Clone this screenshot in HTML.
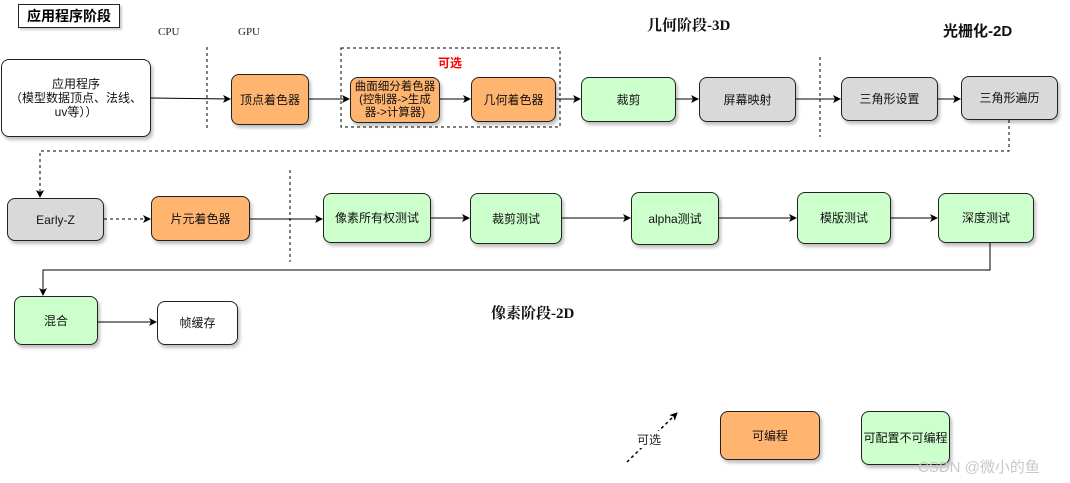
<!DOCTYPE html>
<html><head><meta charset="utf-8"><style>
body{margin:0;width:1070px;height:483px;background:#fff;position:relative;overflow:hidden;font-family:"Liberation Sans","Noto Sans CJK SC",sans-serif;}
.b{position:absolute;box-sizing:border-box;border:1px solid #222;border-radius:8px;display:flex;align-items:center;justify-content:center;text-align:center;font-size:12px;color:#111;box-shadow:2px 3px 3px rgba(0,0,0,0.25);line-height:14px}
.o{background:#ffb570}.g{background:#ccffcc}.y{background:#d9d9d9}.w{background:#fff}
.t{position:absolute;font-size:12px;color:#222;white-space:nowrap}
.h{position:absolute;font-family:"Liberation Serif","Noto Serif CJK SC",serif;font-weight:bold;font-size:15px;color:#111;white-space:nowrap}
svg{position:absolute;left:0;top:0}
</style></head><body>
<svg width="1070" height="483">
<defs><marker id="a" markerWidth="8" markerHeight="8" refX="7" refY="4" orient="auto" markerUnits="userSpaceOnUse"><path d="M0,0L8,4L0,8L2,4z" fill="#000"/></marker></defs>
<g stroke="#000" fill="none" stroke-width="1">
<line x1="207" y1="47" x2="207" y2="128" stroke-dasharray="3,3"/>
<line x1="820" y1="57" x2="820" y2="137" stroke-dasharray="3,3"/>
<line x1="290" y1="170" x2="290" y2="262" stroke-dasharray="3,3"/>
<rect x="341" y="48" width="219" height="79" stroke-dasharray="3,3"/>
<line x1="151" y1="98" x2="230" y2="99" marker-end="url(#a)"/>
<line x1="309" y1="99" x2="349" y2="99" marker-end="url(#a)"/>
<line x1="440" y1="99" x2="470" y2="99" marker-end="url(#a)"/>
<line x1="556" y1="99" x2="580" y2="99" marker-end="url(#a)"/>
<line x1="676" y1="99" x2="698" y2="99" marker-end="url(#a)"/>
<line x1="796" y1="99" x2="840" y2="99" marker-end="url(#a)"/>
<line x1="938" y1="99" x2="960" y2="99" marker-end="url(#a)"/>
<path d="M1009,120V151H40V197" stroke-dasharray="3,3" marker-end="url(#a)"/>
<line x1="104" y1="219" x2="150" y2="219" stroke-dasharray="3,3" marker-end="url(#a)"/>
<line x1="250" y1="219" x2="322" y2="219" marker-end="url(#a)"/>
<line x1="431" y1="218" x2="469" y2="218" marker-end="url(#a)"/>
<line x1="562" y1="218" x2="630" y2="218" marker-end="url(#a)"/>
<line x1="719" y1="218" x2="796" y2="218" marker-end="url(#a)"/>
<line x1="891" y1="218" x2="937" y2="218" marker-end="url(#a)"/>
<path d="M990,243V270H43V295" marker-end="url(#a)"/>
<line x1="98" y1="322" x2="156" y2="322" marker-end="url(#a)"/>
<line x1="627" y1="462" x2="677" y2="413" stroke-dasharray="3,3" stroke-width="1.5" marker-end="url(#a)"/>
</g></svg>
<div style="position:absolute;left:18px;top:4px;width:102px;height:24px;border:1px solid #222;box-sizing:border-box;font-weight:bold;font-size:14px;display:flex;align-items:center;justify-content:center;font-family:'Liberation Sans','Noto Sans CJK SC',sans-serif;box-shadow:2px 2px 2px rgba(0,0,0,.2)">应用程序阶段</div>
<div class="t" style="left:158px;top:26px;font-family:'Liberation Serif',serif;font-size:11px">CPU</div>
<div class="t" style="left:238px;top:26px;font-family:'Liberation Serif',serif;font-size:11px">GPU</div>
<div class="h" style="left:647px;top:14px">几何阶段-3D</div>
<div class="h" style="left:943px;top:20px;font-family:'Liberation Sans','Noto Sans CJK SC',sans-serif;font-size:15px">光栅化-2D</div>
<div class="h" style="left:491px;top:302px">像素阶段-2D</div>
<div class="t" style="left:438px;top:54px;color:#f00;font-weight:bold">可选</div>
<div class="b w" style="left:1px;top:59px;width:150px;height:78px">应用程序<br>（模型数据顶点、法线、<br>uv等））</div>
<div class="b o" style="left:231px;top:74px;width:78px;height:51px">顶点着色器</div>
<div class="b o" style="left:350px;top:77px;width:90px;height:46px;font-size:11.5px;line-height:13px">曲面细分着色器<br>(控制器-&gt;生成<br>器-&gt;计算器)</div>
<div class="b o" style="left:471px;top:77px;width:85px;height:45px">几何着色器</div>
<div class="b g" style="left:581px;top:77px;width:95px;height:45px">裁剪</div>
<div class="b y" style="left:699px;top:77px;width:97px;height:45px">屏幕映射</div>
<div class="b y" style="left:841px;top:77px;width:97px;height:44px">三角形设置</div>
<div class="b y" style="left:961px;top:76px;width:97px;height:44px">三角形遍历</div>
<div class="b y" style="left:7px;top:198px;width:97px;height:43px">Early-Z</div>
<div class="b o" style="left:151px;top:196px;width:99px;height:45px">片元着色器</div>
<div class="b g" style="left:323px;top:193px;width:108px;height:50px">像素所有权测试</div>
<div class="b g" style="left:470px;top:193px;width:92px;height:51px">裁剪测试</div>
<div class="b g" style="left:631px;top:192px;width:88px;height:53px">alpha测试</div>
<div class="b g" style="left:797px;top:192px;width:94px;height:52px">模版测试</div>
<div class="b g" style="left:938px;top:193px;width:96px;height:50px">深度测试</div>
<div class="b g" style="left:14px;top:296px;width:84px;height:49px">混合</div>
<div class="b w" style="left:157px;top:301px;width:81px;height:44px">帧缓存</div>
<div class="t" style="left:637px;top:431px;background:#fff">可选</div>
<div class="b o" style="left:720px;top:411px;width:100px;height:49px">可编程</div>
<div class="b g" style="left:861px;top:411px;width:89px;height:54px">可配置不可编程</div>
<div class="t" style="left:918px;top:456px;font-size:15px;color:#c8c8c8">CSDN @微小的鱼</div>
</body></html>
